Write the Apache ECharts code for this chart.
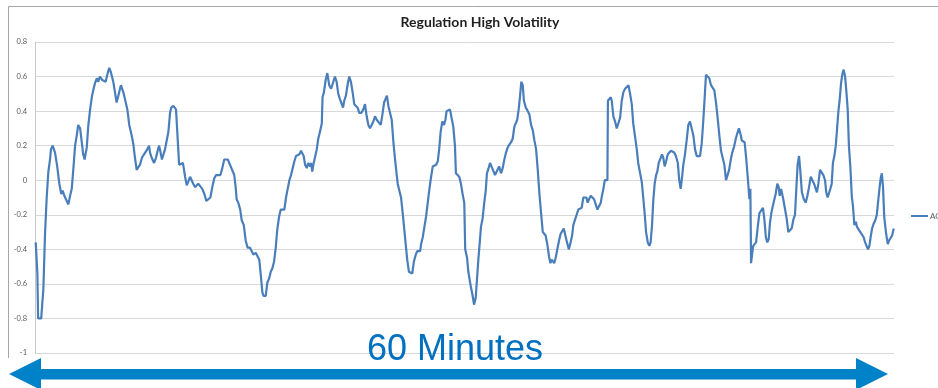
<!DOCTYPE html>
<html>
<head>
<meta charset="utf-8">
<script src="https://cdn.jsdelivr.net/npm/echarts@6/dist/echarts.min.js"></script>
<style>
  html, body { margin: 0; padding: 0; background: #ffffff; }
  #chart { width: 938px; height: 388px; }
</style>
</head>
<body>
<div id="chart"></div>
<script>
// AGC regulation signal over one hour: sample time (seconds) and signal value
const seconds = [
  3, 10, 13, 26, 35, 42, 49, 56, 63, 67, 74, 84, 93, 102, 110, 116, 123, 130, 140, 147,
  154, 161, 168, 175, 181, 189, 196, 202, 208, 217, 223, 231, 238, 244, 251, 259, 265, 272, 277, 282,
  289, 296, 303, 311, 317, 323, 328, 335, 342, 348, 353, 360, 365, 370, 377, 387, 395, 405, 412, 419,
  426, 433, 440, 448, 457, 464, 471, 478, 482, 489, 499, 507, 514, 520, 525, 532, 539, 545, 552, 559,
  566, 571, 580, 585, 591, 598, 604, 612, 620, 629, 636, 642, 650, 657, 663, 671, 678, 684, 692, 701,
  710, 718, 726, 735, 743, 751, 759, 768, 777, 785, 793, 800, 808, 813, 820, 827, 835, 841, 845, 852,
  860, 866, 875, 883, 891, 901, 908, 915, 925, 933, 940, 947, 953, 958, 967, 974, 981, 988, 995, 1002,
  1009, 1015, 1023, 1030, 1036, 1045, 1052, 1059, 1066, 1073, 1080, 1087, 1094, 1101, 1108, 1115, 1120, 1126, 1132, 1139,
  1145, 1153, 1157, 1162, 1168, 1173, 1181, 1187, 1196, 1202, 1205, 1211, 1218, 1225, 1233, 1241, 1248, 1257, 1264, 1271,
  1278, 1285, 1291, 1296, 1303, 1311, 1317, 1324, 1331, 1338, 1345, 1352, 1359, 1368, 1376, 1383, 1390, 1397, 1404, 1411,
  1418, 1425, 1432, 1440, 1449, 1456, 1463, 1470, 1475, 1481, 1488, 1495, 1502, 1509, 1516, 1520, 1527, 1534, 1541, 1548,
  1555, 1560, 1567, 1575, 1581, 1588, 1596, 1602, 1608, 1614, 1618, 1625, 1632, 1639, 1646, 1653, 1660, 1667, 1673, 1681,
  1688, 1694, 1700, 1707, 1714, 1720, 1725, 1732, 1739, 1746, 1753, 1760, 1764, 1772, 1778, 1785, 1792, 1799, 1803, 1811,
  1816, 1822, 1827, 1833, 1840, 1847, 1852, 1858, 1864, 1869, 1876, 1882, 1889, 1894, 1901, 1907, 1914, 1919, 1928, 1936,
  1945, 1953, 1960, 1967, 1974, 1981, 1988, 1995, 2002, 2009, 2016, 2021, 2027, 2033, 2038, 2044, 2049, 2057, 2065, 2072,
  2079, 2086, 2093, 2100, 2107, 2114, 2121, 2128, 2133, 2140, 2147, 2154, 2160, 2165, 2171, 2176, 2182, 2189, 2196, 2203,
  2210, 2216, 2221, 2228, 2237, 2243, 2251, 2256, 2263, 2270, 2277, 2284, 2291, 2298, 2305, 2311, 2316, 2322, 2329, 2336,
  2343, 2350, 2357, 2364, 2371, 2376, 2382, 2388, 2394, 2399, 2401, 2407, 2413, 2417, 2424, 2431, 2438, 2445, 2452, 2459,
  2466, 2473, 2480, 2487, 2494, 2501, 2507, 2515, 2522, 2528, 2536, 2543, 2549, 2555, 2561, 2568, 2575, 2580, 2586, 2591,
  2597, 2603, 2608, 2614, 2621, 2628, 2633, 2639, 2645, 2652, 2658, 2665, 2673, 2679, 2686, 2694, 2700, 2706, 2712, 2717,
  2724, 2731, 2738, 2745, 2753, 2759, 2766, 2773, 2780, 2787, 2794, 2801, 2807, 2812, 2819, 2826, 2833, 2840, 2847, 2854,
  2861, 2868, 2875, 2882, 2889, 2896, 2901, 2909, 2916, 2922, 2929, 2937, 2943, 2950, 2958, 2962, 2967, 2974, 2981, 2988,
  2994, 2998, 3001, 3006, 3010, 3016, 3022, 3029, 3036, 3044, 3051, 3057, 3063, 3069, 3075, 3080, 3086, 3092, 3097, 3104,
  3111, 3117, 3121, 3127, 3131, 3136, 3143, 3150, 3157, 3164, 3171, 3178, 3185, 3191, 3196, 3202, 3207, 3214, 3222, 3230,
  3237, 3244, 3251, 3258, 3265, 3272, 3277, 3283, 3290, 3297, 3304, 3311, 3316, 3322, 3328, 3333, 3339, 3344, 3350, 3356,
  3361, 3367, 3372, 3378, 3383, 3389, 3395, 3400, 3406, 3411, 3417, 3423, 3428, 3434, 3440, 3445, 3452, 3459, 3466, 3473,
  3479, 3486, 3491, 3497, 3502, 3508, 3515, 3522, 3528, 3533, 3539, 3544, 3549, 3554, 3559, 3567, 3574, 3579, 3586, 3592,
  3599
];

const agc = [
  -0.36, -0.54, -0.80, -0.80, -0.63, -0.31, -0.10, 0.05, 0.12, 0.18, 0.20, 0.16, 0.08, -0.02, -0.08, -0.06, -0.09, -0.10, -0.14, -0.09,
  -0.05, 0.07, 0.20, 0.26, 0.32, 0.30, 0.22, 0.15, 0.12, 0.19, 0.31, 0.41, 0.48, 0.52, 0.56, 0.59, 0.57, 0.60, 0.61, 0.58,
  0.59, 0.57, 0.61, 0.65, 0.63, 0.63, 0.57, 0.51, 0.45, 0.44, 0.51, 0.55, 0.56, 0.51, 0.47, 0.41, 0.32, 0.26, 0.21, 0.13,
  0.06, 0.06, 0.09, 0.13, 0.15, 0.14, 0.18, 0.20, 0.16, 0.13, 0.10, 0.13, 0.17, 0.20, 0.17, 0.12, 0.11, 0.18, 0.23, 0.28,
  0.39, 0.42, 0.43, 0.44, 0.41, 0.42, 0.09, 0.08, 0.10, 0.02, -0.03, -0.01, 0.02, 0.02, -0.02, -0.04, -0.04, -0.02, -0.03, -0.05,
  -0.08, -0.12, -0.13, -0.10, -0.04, 0.01, 0.03, 0.03, 0.03, 0.07, 0.12, 0.13, 0.12, 0.13, 0.08, 0.07, 0.03, -0.04, -0.11, -0.13,
  -0.17, -0.23, -0.26, -0.35, -0.39, -0.39, -0.41, -0.43, -0.42, -0.43, -0.46, -0.56, -0.65, -0.67, -0.67, -0.59, -0.57, -0.53, -0.51, -0.47,
  -0.39, -0.29, -0.21, -0.17, -0.18, -0.17, -0.10, -0.05, 0.00, 0.03, 0.07, 0.11, 0.14, 0.14, 0.15, 0.17, 0.18, 0.14, 0.09, 0.07,
  0.10, 0.08, 0.10, 0.05, 0.10, 0.13, 0.18, 0.24, 0.29, 0.33, 0.48, 0.51, 0.58, 0.62, 0.55, 0.53, 0.56, 0.60, 0.57, 0.50,
  0.47, 0.46, 0.42, 0.46, 0.49, 0.56, 0.60, 0.57, 0.51, 0.44, 0.43, 0.42, 0.39, 0.39, 0.41, 0.44, 0.37, 0.32, 0.30, 0.32,
  0.34, 0.37, 0.35, 0.34, 0.32, 0.38, 0.45, 0.46, 0.49, 0.43, 0.43, 0.35, 0.22, 0.12, 0.03, -0.02, -0.03, -0.10, -0.19, -0.29,
  -0.39, -0.46, -0.53, -0.54, -0.54, -0.47, -0.43, -0.41, -0.41, -0.41, -0.37, -0.33, -0.27, -0.21, -0.13, -0.05, 0.02, 0.08, 0.08, 0.09,
  0.11, 0.18, 0.28, 0.34, 0.32, 0.35, 0.40, 0.39, 0.41, 0.40, 0.31, 0.20, 0.04, 0.04, 0.02, -0.02, -0.08, -0.13, -0.40, -0.45,
  -0.53, -0.54, -0.62, -0.66, -0.72, -0.68, -0.58, -0.46, -0.36, -0.27, -0.22, -0.14, -0.06, 0.04, 0.07, 0.10, 0.11, 0.06, 0.03, 0.04,
  0.08, 0.04, 0.07, 0.12, 0.16, 0.19, 0.19, 0.22, 0.24, 0.31, 0.32, 0.35, 0.41, 0.49, 0.57, 0.55, 0.46, 0.42, 0.40, 0.38,
  0.32, 0.29, 0.23, 0.18, 0.06, -0.08, -0.19, -0.30, -0.31, -0.32, -0.37, -0.44, -0.48, -0.46, -0.45, -0.48, -0.45, -0.40, -0.35, -0.31,
  -0.30, -0.28, -0.31, -0.35, -0.40, -0.37, -0.32, -0.26, -0.23, -0.20, -0.17, -0.18, -0.16, -0.10, -0.09, -0.10, -0.13, -0.11, -0.09, -0.10,
  -0.11, -0.14, -0.17, -0.15, -0.13, -0.09, -0.05, 0.00, 0.01, 0.00, 0.46, 0.45, 0.48, 0.46, 0.37, 0.34, 0.30, 0.30, 0.36, 0.46,
  0.51, 0.53, 0.54, 0.55, 0.50, 0.44, 0.33, 0.25, 0.18, 0.10, 0.04, -0.01, -0.10, -0.19, -0.30, -0.36, -0.38, -0.36, -0.26, -0.12,
  -0.02, 0.03, 0.05, 0.10, 0.11, 0.15, 0.13, 0.08, 0.11, 0.15, 0.15, 0.17, 0.17, 0.16, 0.14, 0.10, 0.00, -0.05, 0.02, 0.09,
  0.15, 0.23, 0.32, 0.34, 0.34, 0.26, 0.18, 0.14, 0.13, 0.14, 0.21, 0.35, 0.49, 0.61, 0.62, 0.59, 0.55, 0.54, 0.52, 0.45,
  0.36, 0.26, 0.17, 0.13, 0.09, 0.00, -0.01, 0.06, 0.12, 0.16, 0.19, 0.24, 0.27, 0.30, 0.26, 0.23, 0.24, 0.22, 0.12, 0.00,
  -0.11, -0.05, -0.48, -0.42, -0.38, -0.39, -0.36, -0.27, -0.19, -0.18, -0.16, -0.23, -0.33, -0.36, -0.34, -0.25, -0.19, -0.15, -0.12, -0.08,
  -0.02, -0.04, -0.09, -0.05, -0.05, -0.11, -0.12, -0.22, -0.30, -0.30, -0.28, -0.23, -0.20, -0.04, 0.09, 0.14, 0.06, -0.07, -0.11, -0.13,
  -0.09, -0.04, 0.02, 0.02, -0.02, -0.05, -0.07, -0.02, 0.06, 0.06, 0.03, 0.00, -0.07, -0.10, -0.10, -0.05, -0.02, 0.10, 0.14, 0.20,
  0.29, 0.40, 0.46, 0.56, 0.61, 0.64, 0.60, 0.52, 0.41, 0.20, 0.08, -0.09, -0.15, -0.26, -0.24, -0.27, -0.28, -0.30, -0.30, -0.33,
  -0.36, -0.37, -0.40, -0.38, -0.33, -0.28, -0.25, -0.23, -0.20, -0.13, -0.05, 0.01, 0.04, -0.04, -0.21, -0.31, -0.37, -0.35, -0.34, -0.32,
  -0.28
];

const seriesName = 'AGC';
const chartTitle = 'Regulation High Volatility';
const spanLabel = '60 Minutes';
const yTicks = { min: -1, max: 0.8, step: 0.2 };

const chart = echarts.init(document.getElementById('chart'), null, { renderer: 'canvas' });

const arrowBlue = '#0082c8';

chart.setOption({
  animation: false,
  backgroundColor: '#ffffff',
  grid: { left: 35, right: 44, top: 42, bottom: 35, containLabel: false },
  legend: {
    data: [{ name: seriesName, icon: 'rect' }],
    left: 906,
    top: 207,
    itemWidth: 17,
    itemHeight: 2,
    itemGap: 4,
    textStyle: { fontFamily: 'Lato', fontSize: 8, color: '#595959', padding: [0, 0, 0, -3] }
  },
  xAxis: {
    type: 'value',
    min: 0,
    max: 3600,
    axisLine: { show: false },
    axisTick: { show: false },
    axisLabel: { show: false },
    splitLine: { show: false }
  },
  yAxis: {
    type: 'value',
    min: yTicks.min,
    max: yTicks.max,
    interval: yTicks.step,
    axisLine: { show: true, lineStyle: { color: '#c8c8c8', width: 1 } },
    axisTick: { show: false },
    axisLabel: {
      margin: 8,
      fontFamily: 'Lato',
      fontSize: 7.5,
      color: '#595959',
      formatter: v => String(Math.round(v * 10) / 10)
    },
    splitLine: { show: true, lineStyle: { color: '#d9d9d9', width: 1 } }
  },
  series: [{
    name: seriesName,
    type: 'line',
    data: seconds.map((s, i) => [s, agc[i]]),
    showSymbol: false,
    symbol: 'none',
    lineStyle: { color: '#4a7ebb', width: 2.2 },
    itemStyle: { color: '#4a7ebb' },
    z: 3
  }],
  graphic: [
    // chart frame (top and left edges)
    {
      type: 'polyline',
      shape: { points: [[8.5, 358], [8.5, 6.5], [938, 6.5]] },
      style: { stroke: '#a6a6a6', lineWidth: 1, fill: null },
      silent: true
    },
    {
      type: 'text',
      style: {
        x: 480, y: 22.5,
        text: chartTitle,
        align: 'center', verticalAlign: 'middle',
        fontFamily: 'Lato', fontWeight: 'bold', fontSize: 14,
        fill: '#1f1f1f'
      },
      silent: true
    },
    {
      type: 'text',
      style: {
        x: 455, y: 350,
        text: spanLabel,
        align: 'center', verticalAlign: 'middle',
        fontFamily: 'Liberation Sans', fontSize: 36,
        fill: '#0070c0'
      },
      z: 10,
      silent: true
    },
    // double-headed arrow spanning the hour
    {
      type: 'polygon',
      shape: {
        points: [
          [9, 374], [41, 358], [41, 369], [856, 369], [856, 358], [888, 374],
          [856, 390], [856, 379.5], [41, 379.5], [41, 390]
        ]
      },
      style: { fill: arrowBlue },
      z: 10,
      silent: true
    }
  ]
});
</script>
</body>
</html>
